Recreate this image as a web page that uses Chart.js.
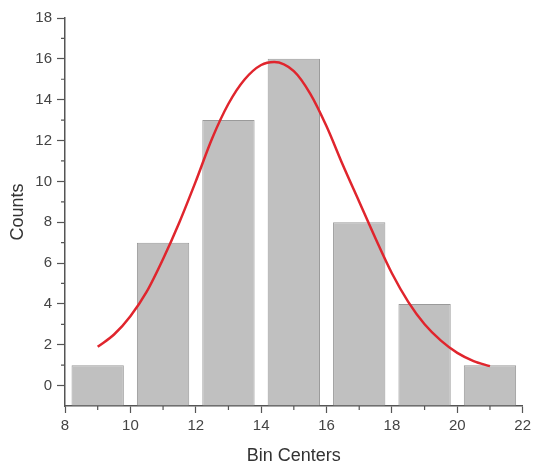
<!DOCTYPE html>
<html>
<head>
<meta charset="utf-8">
<script src="https://cdn.jsdelivr.net/npm/chart.js@4"></script>
<style>
  html, body { margin: 0; padding: 0; background: #fff; }
</style>
</head>
<body>
<canvas id="histChart" width="535" height="464"></canvas>
<script>
// histogram bins
const binCenters = [9, 11, 13, 15, 17, 19, 21];
const binCounts = [1, 7, 13, 16, 8, 4, 1];

// fitted curve
const fitX = [9.0, 9.5, 10.0, 10.5, 11.0, 11.5, 12.0, 12.5, 13.0, 13.5, 14.0, 14.4, 15.0, 15.5, 16.0, 16.5, 17.0, 17.5, 18.0, 18.5, 19.0, 19.5, 20.0, 20.5, 21.0];
const fitY = [1.9, 2.5, 3.4, 4.6, 6.2, 8.0, 10.0, 12.1, 13.8, 15.0, 15.7, 15.85, 15.4, 14.3, 12.7, 10.8, 9.0, 7.2, 5.5, 4.1, 3.0, 2.2, 1.6, 1.2, 0.95];

// axis ticks
const xTicks = [8, 10, 12, 14, 16, 18, 20, 22];
const yTicks = [0, 2, 4, 6, 8, 10, 12, 14, 16, 18];

const axisColor = '#555';
const labelColor = '#444';

// short minor ticks between the labelled ones
const minorTicks = {
    id: 'minorTicks',
    afterDraw(chart) {
        const { ctx, scales: { x, y } } = chart;
        ctx.save();
        ctx.strokeStyle = axisColor;
        ctx.lineWidth = 1.2;
        ctx.beginPath();
        for (let v = x.min + 1; v < x.max; v += 2) {
            const px = x.getPixelForValue(v);
            ctx.moveTo(px, y.bottom);
            ctx.lineTo(px, y.bottom + 4);
        }
        for (let v = y.min + 2; v < y.max; v += 2) {
            const py = y.getPixelForValue(v);
            ctx.moveTo(x.left - 4, py);
            ctx.lineTo(x.left, py);
        }
        ctx.stroke();
        ctx.restore();
    }
};

const ctx = document.getElementById('histChart').getContext('2d');

new Chart(ctx, {
    type: 'bar',
    data: {
        datasets: [{
            type: 'line',
            data: fitX.map((v, i) => ({ x: v, y: fitY[i] })),
            borderColor: '#e0252d',
            borderWidth: 2.5,
            pointRadius: 0,
            cubicInterpolationMode: 'monotone',
            fill: false,
            order: 0
        }, {
            type: 'bar',
            data: binCenters.map((v, i) => ({ x: v, y: binCounts[i] })),
            base: -1,
            backgroundColor: '#c0c0c0',
            borderColor: '#9a9a9a',
            borderWidth: 1,
            barPercentage: 0.8,
            categoryPercentage: 1,
            order: 1
        }]
    },
    options: {
        responsive: false,
        animation: false,
        layout: { padding: { top: 18, right: 12, bottom: 0, left: 0 } },
        plugins: {
            legend: { display: false },
            tooltip: { enabled: false }
        },
        scales: {
            x: {
                type: 'linear',
                min: 8,
                max: 22,
                offset: false,
                afterBuildTicks: scale => { scale.ticks = xTicks.map(v => ({ value: v })); },
                afterFit: scale => { scale.height = 58; },
                ticks: {
                    color: labelColor,
                    font: { family: 'Liberation Sans, Arial, sans-serif', size: 15 },
                    padding: 4,
                    maxRotation: 0
                },
                grid: {
                    offset: false,
                    drawOnChartArea: false,
                    drawTicks: true,
                    tickLength: 7,
                    tickWidth: 1.2,
                    tickColor: axisColor
                },
                border: { display: true, color: axisColor, width: 1.5 },
                title: {
                    display: true,
                    text: 'Bin Centers',
                    color: '#333',
                    font: { family: 'Liberation Sans, Arial, sans-serif', size: 18 },
                    padding: { top: 0, bottom: -3 }
                }
            },
            y: {
                min: -1,
                max: 18,
                afterBuildTicks: scale => { scale.ticks = [{ value: -1 }].concat(yTicks.map(v => ({ value: v }))); },
                afterFit: scale => { scale.width = 65; },
                ticks: {
                    color: labelColor,
                    font: { family: 'Liberation Sans, Arial, sans-serif', size: 15 },
                    padding: 5,
                    callback: v => (v < 0 ? '' : v)
                },
                grid: {
                    drawOnChartArea: false,
                    drawTicks: true,
                    tickLength: 8,
                    tickWidth: 1.2,
                    tickColor: c => (c.tick && c.tick.value < 0 ? 'rgba(0,0,0,0)' : axisColor)
                },
                border: { display: true, color: axisColor, width: 1.5 },
                title: {
                    display: true,
                    text: 'Counts',
                    color: '#333',
                    font: { family: 'Liberation Sans, Arial, sans-serif', size: 18 },
                    padding: { top: 7, bottom: 0 }
                }
            }
        }
    },
    plugins: [minorTicks]
});
</script>
</body>
</html>
